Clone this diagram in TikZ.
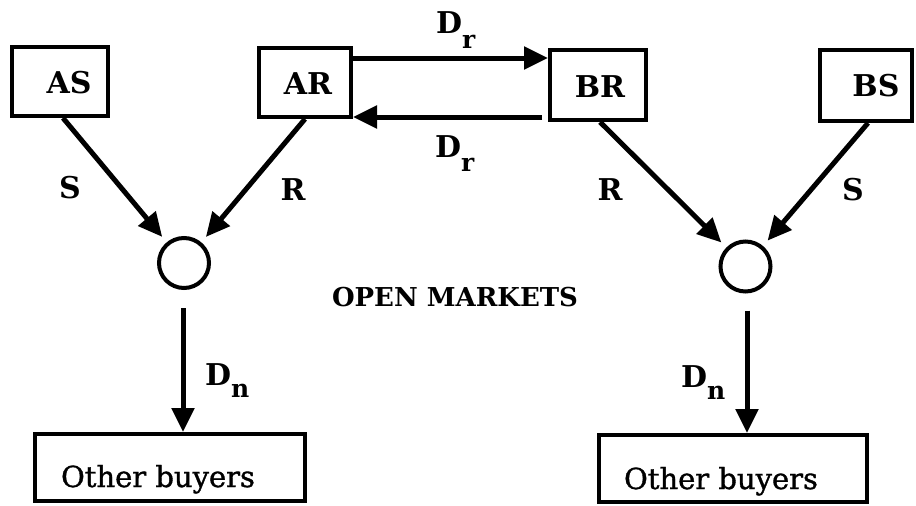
\documentclass[tikz,border=0pt]{standalone}
\usepackage{fontspec}
\setmainfont{DejaVu Serif}
\newfontfamily\heavyfont[FakeBold=1.2]{DejaVu Serif}
\usetikzlibrary{arrows.meta}
\begin{document}
\begin{tikzpicture}[x=1pt,y=-1pt,
  box/.style={draw,line width=4pt,inner sep=0pt},
  arr/.style={line width=5pt,-{Triangle[length=24pt,width=22pt]}},
  lbl/.style={font=\fontsize{30}{30}\selectfont\bfseries,inner sep=0pt},
  txt/.style={font=\fontsize{29}{29}\heavyfont\selectfont,inner sep=0pt},
  mkt/.style={circle,draw,line width=4pt,minimum size=50pt,inner sep=0pt},
  sub/.style={font=\fontsize{30}{30}\selectfont\bfseries,inner sep=0pt,anchor=base west}]
\useasboundingbox (0,0) rectangle (916,506);
% boxes
\node[box,minimum width=96pt,minimum height=69pt] (AS) at (60,81.5) {};
\node[box,minimum width=92pt,minimum height=69pt] (AR) at (305,82.5) {};
\node[box,minimum width=96pt,minimum height=70pt] (BR) at (598,85) {};
\node[box,minimum width=92pt,minimum height=71pt] (BS) at (866,85.5) {};
\node[box,minimum width=270pt,minimum height=67pt] (OB1) at (170,467.5) {};
\node[box,minimum width=268pt,minimum height=67pt] (OB2) at (733,468.5) {};
% box texts
\node[lbl] (tAS) at (69,83) {AS};
\node[lbl] (tAR) at (308,84) {AR};
\node[lbl] (tBR) at (600,87) {BR};
\node[lbl] (tBS) at (876,86) {BS};
\node[txt,anchor=base] (tOB1) at (158,487) {Other buyers};
\node[txt,anchor=base] (tOB2) at (721,489) {Other buyers};
% markets
\node[mkt] (cl) at (184,263) {};
\node[mkt] (cr) at (745.5,266.5) {};
\node[font=\fontsize{26}{26}\selectfont\bfseries,inner sep=0pt] (om) at (455,297) {OPEN MARKETS};
% arrows into markets
\draw[arr,shorten >=7pt] ([xshift=3pt]AS.south) -- (cl);
\draw[arr,shorten >=7pt] (AR.south) -- (cl);
\draw[arr,shorten >=7pt] ([xshift=2pt]BR.south) -- (cr);
\draw[arr,shorten >=7pt] ([xshift=2pt]BS.south) -- (cr);
% arrows to buyers
\draw[arr,shorten <=18pt] ([xshift=-1pt]cl.south) -- ([xshift=-1pt]cl.south |- OB1.north);
\draw[arr,shorten <=17pt] ([xshift=1.5pt]cr.south) -- ([xshift=1.5pt]cr.south |- OB2.north);
% exchange arrows
\draw[arr] ([yshift=24.5pt]AR.east) -- ([yshift=24.5pt]AR.east -| BR.west);
\draw[arr,shorten <=6pt] ([yshift=-34.5pt]AR.east -| BR.west) -- ([yshift=-34.5pt]AR.east);
% arrow labels
\node[lbl] (lS1) at (70,188) {S};
\node[lbl] (lR1) at (293,190) {R};
\node[lbl] (lR2) at (610,190) {R};
\node[lbl] (lS2) at (853,190) {S};
\node[sub] (dr1) at (436,33) {D\raisebox{-16pt}{\fontsize{25}{25}\selectfont r}};
\node[sub] (dr2) at (435,157) {D\raisebox{-14pt}{\fontsize{25}{25}\selectfont r}};
\node[sub] (dn1) at (205,385) {D\raisebox{-12pt}{\fontsize{25}{25}\selectfont n}};
\node[sub] (dn2) at (681,387) {D\raisebox{-12pt}{\fontsize{25}{25}\selectfont n}};
\end{tikzpicture}
\end{document}
